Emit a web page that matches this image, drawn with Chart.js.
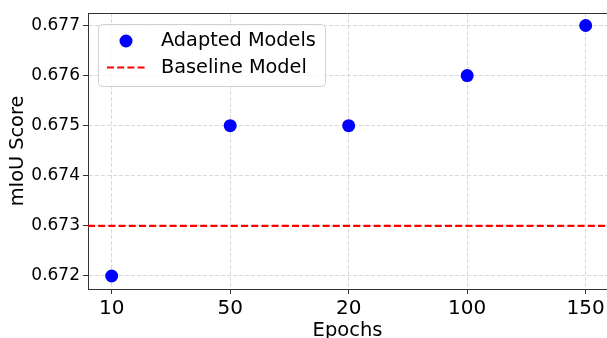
<!DOCTYPE html>
<html>
<head>
<meta charset="utf-8">
<script src="https://cdn.jsdelivr.net/npm/chart.js@4/dist/chart.umd.min.js"></script>
<style>
html,body{margin:0;padding:0;background:#fff;}
#wrap{width:607px;height:338px;position:relative;}
</style>
</head>
<body>
<div id="wrap"><canvas id="c" width="607" height="338"></canvas></div>
<script>
// ---- data ----
const categories = ['10', '50', '20', '100', '150'];
const adaptedScores = [0.672, 0.675, 0.675, 0.676, 0.677];
const baselineScore = [0.673];
const yTickValues = [0.672, 0.673, 0.674, 0.675, 0.676, 0.677];
const seriesLabels = ['Adapted Models', 'Baseline Model'];

// ---- axis ranges ----
const xMin = -0.2, xMax = 4.18;
const yMin = 0.67174, yMax = 0.67725;

const FONT = 'DejaVu Sans';

const scatterData = categories.map((c, i) => ({x: i, y: adaptedScores[i]}));
const baselineData = [{x: xMin, y: baselineScore[0]}, {x: xMax, y: baselineScore[0]}];

const frameAndLegend = {
  id: 'frameAndLegend',
  afterDraw(chart) {
    const ctx = chart.ctx;
    const a = chart.chartArea;
    // top spine
    ctx.save();
    ctx.strokeStyle = '#333';
    ctx.lineWidth = 1;
    ctx.beginPath();
    ctx.moveTo(a.left, a.top + 0.5);
    ctx.lineTo(a.right, a.top + 0.5);
    ctx.stroke();
    ctx.restore();

    // legend
    const ds = chart.data.datasets;
    const bx = 98.5, by = 24.5, bw = 227, bh = 62, r = 4;
    ctx.save();
    ctx.beginPath();
    ctx.moveTo(bx + r, by);
    ctx.lineTo(bx + bw - r, by);
    ctx.quadraticCurveTo(bx + bw, by, bx + bw, by + r);
    ctx.lineTo(bx + bw, by + bh - r);
    ctx.quadraticCurveTo(bx + bw, by + bh, bx + bw - r, by + bh);
    ctx.lineTo(bx + r, by + bh);
    ctx.quadraticCurveTo(bx, by + bh, bx, by + bh - r);
    ctx.lineTo(bx, by + r);
    ctx.quadraticCurveTo(bx, by, bx + r, by);
    ctx.closePath();
    ctx.fillStyle = 'rgba(255,255,255,0.8)';
    ctx.fill();
    ctx.strokeStyle = '#d0d0d0';
    ctx.lineWidth = 1;
    ctx.stroke();

    // entry 1: marker
    ctx.fillStyle = ds[0].backgroundColor;
    ctx.beginPath();
    ctx.arc(126, 41, 6.5, 0, Math.PI * 2);
    ctx.fill();
    // entry 2: dashed line
    ctx.strokeStyle = ds[1].borderColor;
    ctx.lineWidth = ds[1].borderWidth;
    ctx.setLineDash(ds[1].borderDash);
    ctx.beginPath();
    ctx.moveTo(107, 67.5);
    ctx.lineTo(145, 67.5);
    ctx.stroke();
    ctx.setLineDash([]);

    ctx.fillStyle = '#000';
    ctx.font = '19.3px "' + FONT + '"';
    ctx.textBaseline = 'middle';
    ctx.textAlign = 'left';
    ctx.fillText(ds[0].label, 161, 41);
    ctx.fillText(ds[1].label, 161, 68);
    ctx.restore();
  }
};

new Chart(document.getElementById('c'), {
  type: 'scatter',
  data: {
    datasets: [
      {
        label: seriesLabels[0],
        data: scatterData,
        backgroundColor: '#0000ff',
        borderColor: '#0000ff',
        borderWidth: 0,
        pointRadius: 6.5,
        pointHoverRadius: 6.5,
        order: 1
      },
      {
        type: 'line',
        label: seriesLabels[1],
        data: baselineData,
        borderColor: '#ff0000',
        backgroundColor: '#ff0000',
        borderWidth: 2.2,
        borderDash: [7, 3.2],
        pointRadius: 0,
        fill: false,
        order: 0
      }
    ]
  },
  options: {
    responsive: false,
    animation: false,
    devicePixelRatio: 1,
    layout: {autoPadding: false, padding: {top: 13, right: 0, left: 0, bottom: 0}},
    plugins: {legend: {display: false}, tooltip: {enabled: false}},
    scales: {
      x: {
        type: 'linear',
        min: xMin,
        max: xMax,
        afterBuildTicks(scale) { scale.ticks = categories.map((c, i) => ({value: i})); },
        afterFit(scale) { scale.height = 49; scale.paddingLeft = 0; scale.paddingRight = 0; },
        ticks: {
          callback: (v) => categories[v],
          color: '#000',
          font: {family: FONT, size: 20},
          padding: 3,
          maxRotation: 0,
          autoSkip: false
        },
        grid: {
          color: 'rgba(200,200,200,0.75)',
          lineWidth: 0.9,
          tickLength: 5,
          tickColor: '#333',
          tickWidth: 1
        },
        border: {color: '#333', width: 1, dash: [4, 2]},
        title: {
          display: true,
          text: 'Epochs',
          color: '#000',
          font: {family: FONT, size: 19.5, lineHeight: 1},
          padding: {top: 0, bottom: -3}
        }
      },
      y: {
        type: 'linear',
        min: yMin,
        max: yMax,
        afterBuildTicks(scale) { scale.ticks = yTickValues.map(v => ({value: v})); },
        afterFit(scale) { scale.width = 88; scale.paddingTop = 0; scale.paddingBottom = 0; },
        ticks: {
          callback: (v) => Number(v).toFixed(3),
          color: '#000',
          font: {family: FONT, size: 17},
          padding: 3
        },
        grid: {
          color: 'rgba(200,200,200,0.75)',
          lineWidth: 0.9,
          tickLength: 5,
          tickColor: '#333',
          tickWidth: 1
        },
        border: {color: '#333', width: 1, dash: [4, 2]},
        title: {
          display: true,
          text: 'mIoU Score',
          color: '#000',
          font: {family: FONT, size: 19.3, lineHeight: 1},
          padding: {top: 8, bottom: 0}
        }
      }
    }
  },
  plugins: [frameAndLegend]
});
</script>
</body>
</html>
